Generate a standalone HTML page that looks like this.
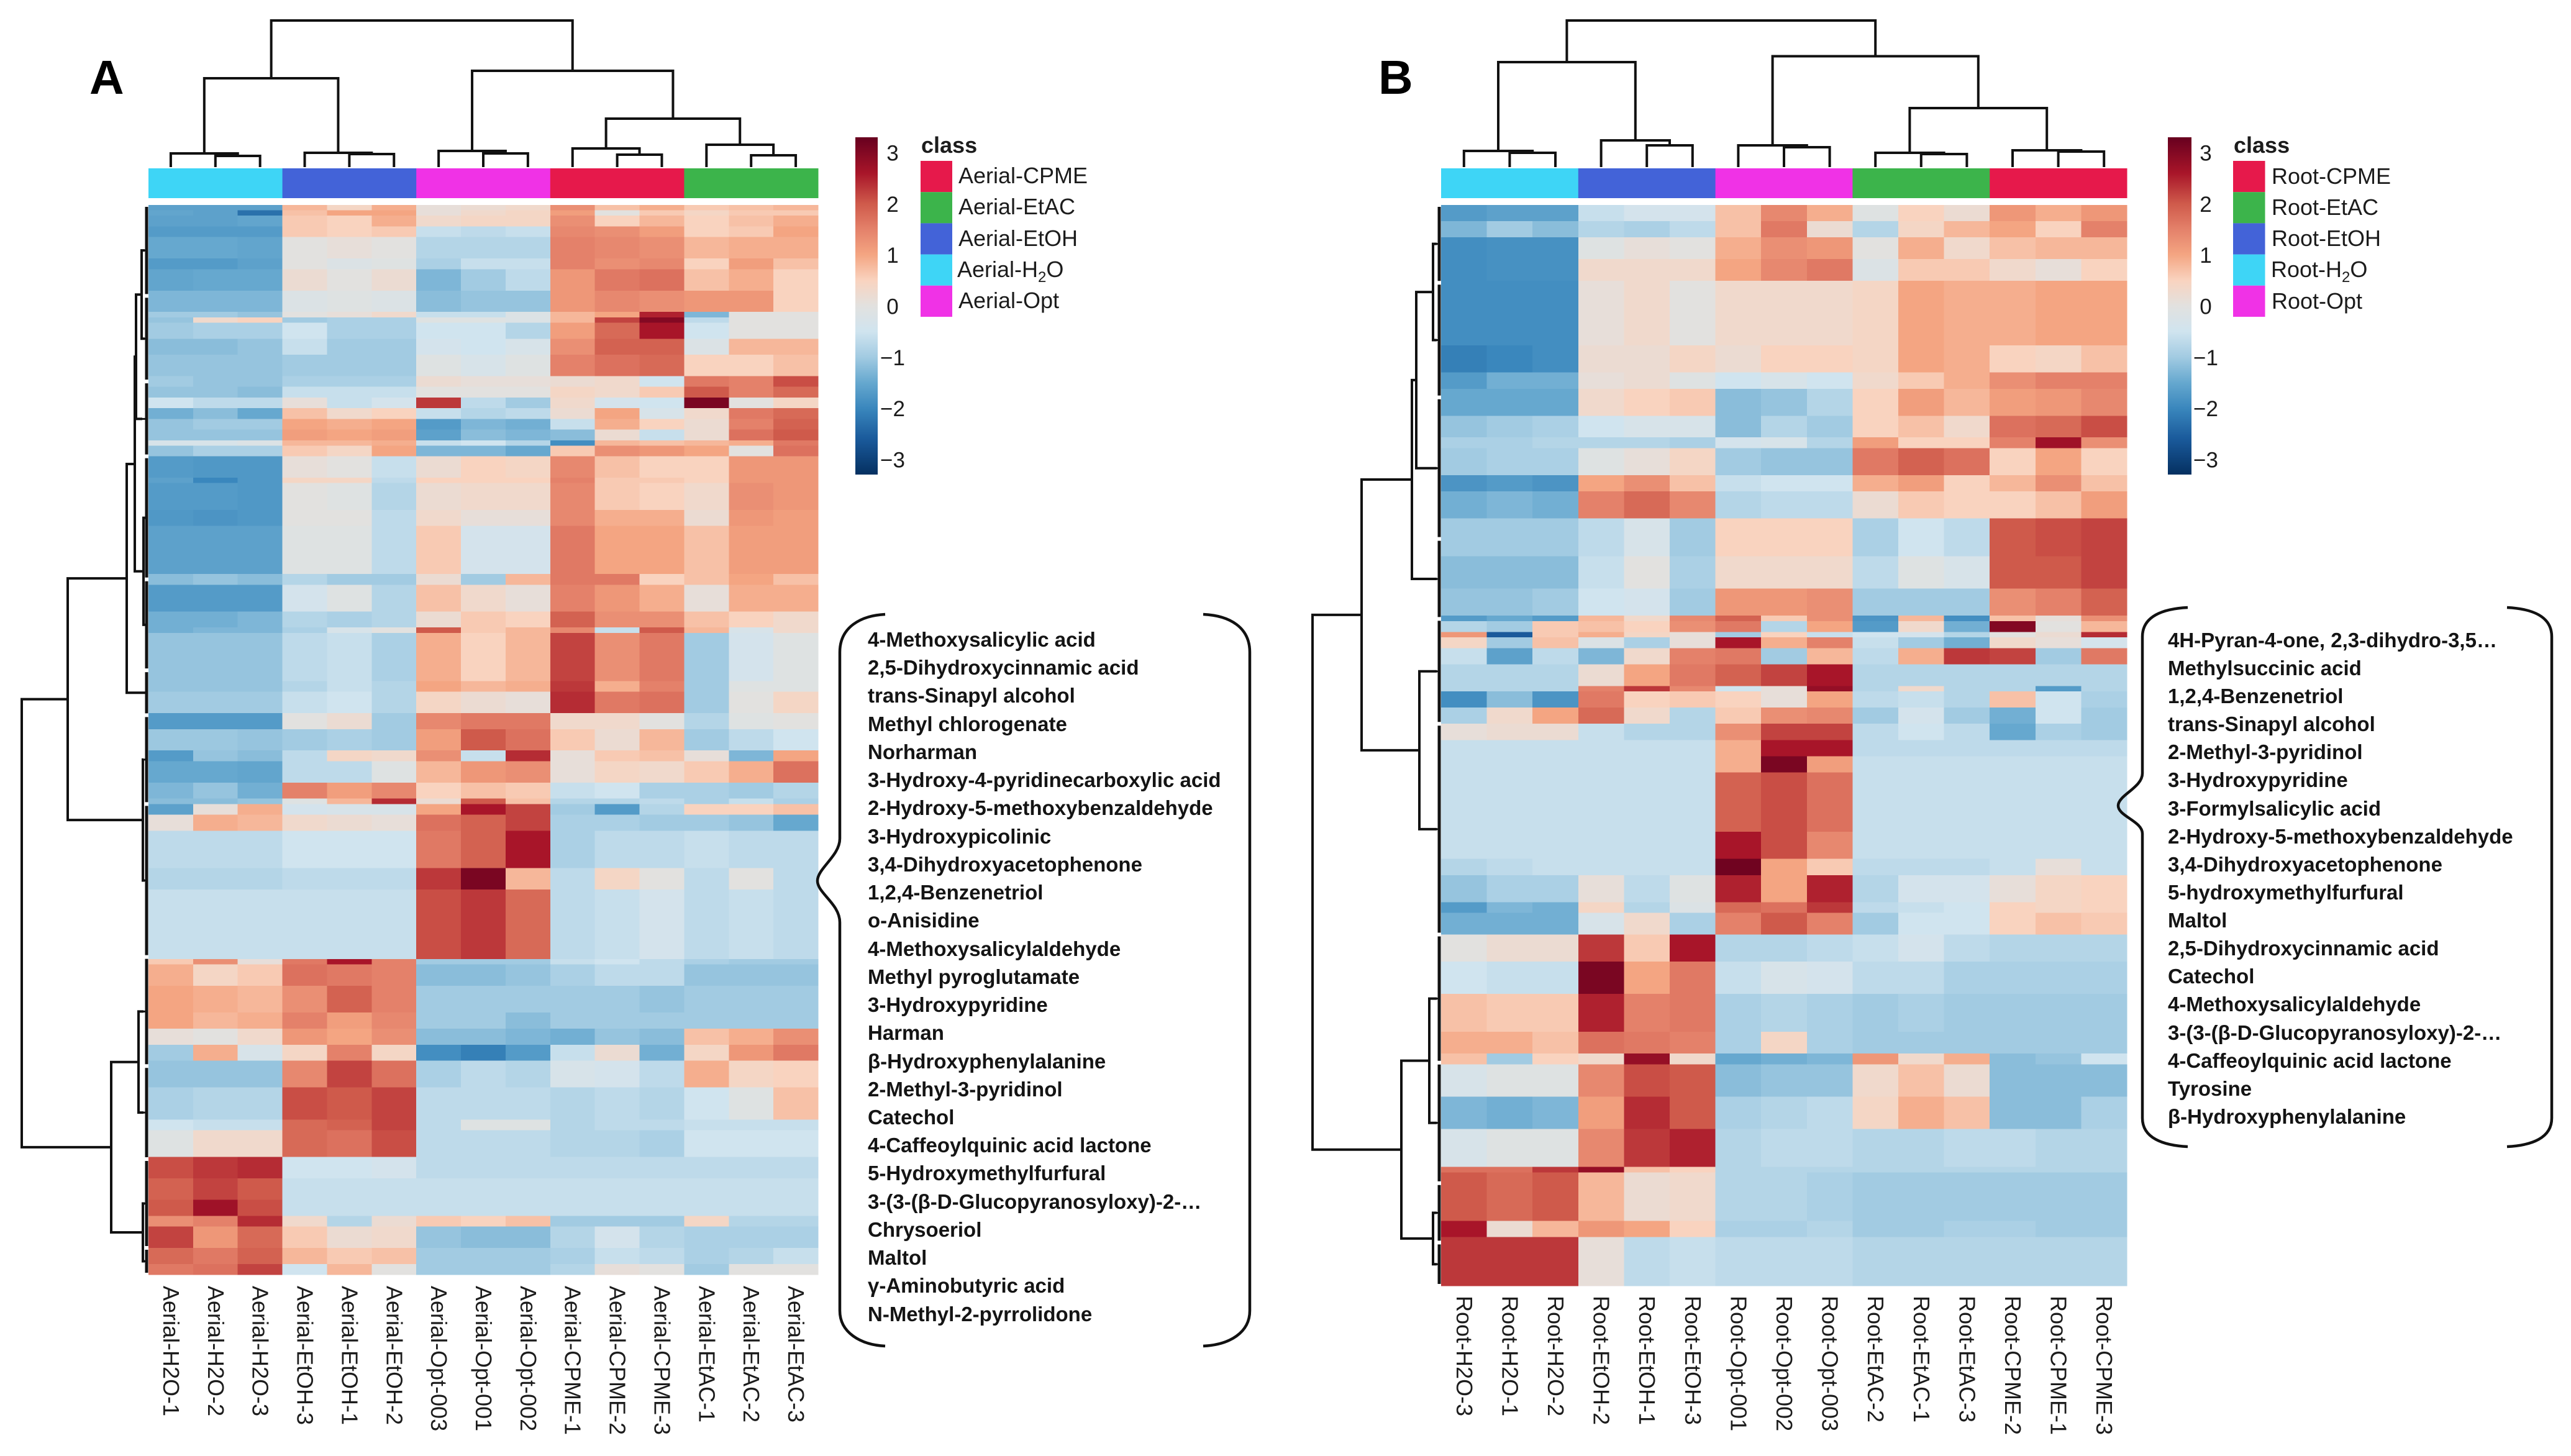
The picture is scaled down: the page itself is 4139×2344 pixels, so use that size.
<!DOCTYPE html>
<html lang="en">
<head>
<meta charset="utf-8">
<title>Clustered metabolite heatmaps for aerial and root extracts</title>
<style>
html,body{margin:0;padding:0;background:#fff;width:4139px;height:2344px;overflow:hidden}
svg{display:block}
text{font-family:"Liberation Sans",sans-serif;fill:#1c1c1c}
.cmp{font-size:33px;font-weight:700;fill:#141414}
.leg{font-size:36px}
.cls{font-size:36px;font-weight:700}
.letter{font-size:77px;font-weight:700;fill:#000}
.brace{fill:none;stroke:#111;stroke-width:4.5}
</style>
</head>
<body>
<svg id="fig" xmlns="http://www.w3.org/2000/svg" width="4139" height="2344" viewBox="0 0 4139 2344">
<rect width="4139" height="2344" fill="#fff"/>
<g id="plots"></g>
<text class="letter" x="144" y="151">A</text>
<text class="letter" x="2219" y="151">B</text>

<g>
<text class="cls" x="1483" y="246">class</text>
<rect x="1482" y="259" width="51" height="50.2" fill="#e6194b"/>
<rect x="1482" y="309.2" width="51" height="50.2" fill="#3cb44b"/>
<rect x="1482" y="359.4" width="51" height="50.2" fill="#4363d8"/>
<rect x="1482" y="409.6" width="51" height="50.2" fill="#3ed5f6"/>
<rect x="1482" y="459.8" width="51" height="50.2" fill="#f032e6"/>
<text class="leg" x="1543" y="295">Aerial-CPME</text>
<text class="leg" x="1543" y="345">Aerial-EtAC</text>
<text class="leg" x="1543" y="396">Aerial-EtOH</text>
<text class="leg" x="1541" y="446">Aerial-H<tspan font-size="24" dy="8">2</tspan><tspan dy="-8">O</tspan></text>
<text class="leg" x="1543" y="496">Aerial-Opt</text>
</g>

<g>
<text class="cls" x="3596" y="246">class</text>
<rect x="3595" y="259" width="51.5" height="50.2" fill="#e6194b"/>
<rect x="3595" y="309.2" width="51.5" height="50.2" fill="#3cb44b"/>
<rect x="3595" y="359.4" width="51.5" height="50.2" fill="#4363d8"/>
<rect x="3595" y="409.6" width="51.5" height="50.2" fill="#3ed5f6"/>
<rect x="3595" y="459.8" width="51.5" height="50.2" fill="#f032e6"/>
<text class="leg" x="3657" y="296">Root-CPME</text>
<text class="leg" x="3657" y="346">Root-EtAC</text>
<text class="leg" x="3657" y="396">Root-EtOH</text>
<text class="leg" x="3656" y="446">Root-H<tspan font-size="24" dy="8">2</tspan><tspan dy="-8">O</tspan></text>
<text class="leg" x="3657" y="497">Root-Opt</text>
</g>

<path class="brace" d="M1425 989C1385 991 1352 1010 1352 1050V1350C1352 1378 1316 1398 1316 1418C1316 1438 1352 1455 1352 1485V2110C1352 2145 1385 2165 1425 2167"/>
<path class="brace" d="M1937 989C1980 991 2012 1010 2012 1050V2110C2012 2145 1980 2165 1937 2167"/>
<path class="brace" d="M3522 978C3482 980 3449 992 3449 1025V1245C3449 1268 3410 1280 3410 1297C3410 1314 3449 1322 3449 1342V1800C3449 1832 3482 1844 3522 1846"/>
<path class="brace" d="M4036 978C4076 980 4108 992 4108 1025V1800C4108 1832 4076 1844 4036 1846"/>

<g transform="translate(1397,0)">
<text class="cmp" y="1041">4-Methoxysalicylic acid</text>
<text class="cmp" y="1086">2,5-Dihydroxycinnamic acid</text>
<text class="cmp" y="1131">trans-Sinapyl alcohol</text>
<text class="cmp" y="1177">Methyl chlorogenate</text>
<text class="cmp" y="1222">Norharman</text>
<text class="cmp" y="1267">3-Hydroxy-4-pyridinecarboxylic acid</text>
<text class="cmp" y="1312">2-Hydroxy-5-methoxybenzaldehyde</text>
<text class="cmp" y="1358">3-Hydroxypicolinic</text>
<text class="cmp" y="1403">3,4-Dihydroxyacetophenone</text>
<text class="cmp" y="1448">1,2,4-Benzenetriol</text>
<text class="cmp" y="1493">o-Anisidine</text>
<text class="cmp" y="1539">4-Methoxysalicylaldehyde</text>
<text class="cmp" y="1584">Methyl pyroglutamate</text>
<text class="cmp" y="1629">3-Hydroxypyridine</text>
<text class="cmp" y="1674">Harman</text>
<text class="cmp" y="1720">β-Hydroxyphenylalanine</text>
<text class="cmp" y="1765">2-Methyl-3-pyridinol</text>
<text class="cmp" y="1810">Catechol</text>
<text class="cmp" y="1855">4-Caffeoylquinic acid lactone</text>
<text class="cmp" y="1900">5-Hydroxymethylfurfural</text>
<text class="cmp" y="1946">3-(3-(β-D-Glucopyranosyloxy)-2-…</text>
<text class="cmp" y="1991">Chrysoeriol</text>
<text class="cmp" y="2036">Maltol</text>
<text class="cmp" y="2081">γ-Aminobutyric acid</text>
<text class="cmp" y="2127">N-Methyl-2-pyrrolidone</text>
</g>

<g transform="translate(3490,0)">
<text class="cmp" y="1042">4H-Pyran-4-one, 2,3-dihydro-3,5…</text>
<text class="cmp" y="1087">Methylsuccinic acid</text>
<text class="cmp" y="1132">1,2,4-Benzenetriol</text>
<text class="cmp" y="1177">trans-Sinapyl alcohol</text>
<text class="cmp" y="1222">2-Methyl-3-pyridinol</text>
<text class="cmp" y="1267">3-Hydroxypyridine</text>
<text class="cmp" y="1313">3-Formylsalicylic acid</text>
<text class="cmp" y="1358">2-Hydroxy-5-methoxybenzaldehyde</text>
<text class="cmp" y="1403">3,4-Dihydroxyacetophenone</text>
<text class="cmp" y="1448">5-hydroxymethylfurfural</text>
<text class="cmp" y="1493">Maltol</text>
<text class="cmp" y="1538">2,5-Dihydroxycinnamic acid</text>
<text class="cmp" y="1583">Catechol</text>
<text class="cmp" y="1628">4-Methoxysalicylaldehyde</text>
<text class="cmp" y="1674">3-(3-(β-D-Glucopyranosyloxy)-2-…</text>
<text class="cmp" y="1719">4-Caffeoylquinic acid lactone</text>
<text class="cmp" y="1764">Tyrosine</text>
<text class="cmp" y="1809">β-Hydroxyphenylalanine</text>
</g>
</svg>

<script>
// ---------- shared scale ----------
const colorStops = [-3.3,-2.6,-2,-1.5,-1,-0.5,0,0.5,1,1.5,2,2.6,3.3];
const colorHexes = ['#053061','#1a5a9b','#3a87bd','#66a8cf','#a2cbe2','#d0e4ef','#e2e1df','#f9d3bf','#f4a582','#e4816a','#cf5a4b','#a81529','#67001f'];
const colorbarTicks = [3,2,1,0,-1,-2,-3];

// ---------- Aerial panel ----------
const aerialColumns = ['Aerial-H2O-1','Aerial-H2O-2','Aerial-H2O-3','Aerial-EtOH-3','Aerial-EtOH-1','Aerial-EtOH-2','Aerial-Opt-003','Aerial-Opt-001','Aerial-Opt-002','Aerial-CPME-1','Aerial-CPME-2','Aerial-CPME-3','Aerial-EtAC-1','Aerial-EtAC-2','Aerial-EtAC-3'];
const aerialClasses = ['#3ed5f6','#4363d8','#f032e6','#e6194b','#3cb44b'];
const aerialBandRows = [1,1,2,2,4,2,4,4,1,1,3,3,4,2,2,2,2,2,2,1,2,4,1,5,3,9,2,5,3,1,9,2,4,3,4,2,4,3,1,2,3,7,4,13,1,4,5,3,3,3,5,6,2,5,4,4,3,2,4,3,2];
const aerialValues = [
[-1.6,-1.6,-1.6,.8,.4,.9,.1,.2,.3,1.3,.7,.9,.6,.7,.8],
[-1.55,-1.6,-2.3,.7,1,1,.1,.3,.4,1.1,0,.6,.4,.6,.6],
[-1.6,-1.6,-1.55,.6,.5,.9,.3,.4,.4,1.3,.5,.8,.5,.7,.9],
[-1.7,-1.7,-1.7,.6,.5,.6,-.6,-.7,-.6,1.4,1.3,1.1,.5,.6,1],
[-1.5,-1.5,-1.55,0,.1,0,-.8,-.8,-.8,1.5,1.4,1.3,.8,.9,.9],
[-1.7,-1.7,-1.6,0,-.2,-.1,-.9,-.6,-.6,1.5,1.3,1.4,.5,1.1,.7],
[-1.55,-1.5,-1.5,.2,0,.2,-1.3,-1,-.7,1.2,1.6,1.7,.7,.9,.5],
[-1.3,-1.3,-1.3,-.2,-.1,-.2,-1.2,-1.1,-1.1,1.2,1.4,1.3,1.2,1.2,.5],
[-1,-1,-1.1,0,.1,.3,-.6,-.6,-.2,.8,1,2.5,-1.3,0,0],
[-1.1,.3,.5,-1,-.9,-.9,-.1,-.1,-.2,.8,2.2,3,-.7,0,0],
[-1,-.9,-.9,-.5,-.9,-.9,-.5,-.5,-.8,1.1,1.8,2.6,-.5,0,0],
[-1.2,-1.2,-1.1,-.6,-1,-1,-.4,-.5,-.3,1.3,1.9,1.9,-.2,.8,.8],
[-1.1,-1.1,-1.1,-1,-1,-1,-.1,-.3,-.1,1.5,1.7,1.8,.5,.5,.7],
[-1,-1.1,-1.1,-.9,-.9,-.9,.2,.1,.1,.2,.3,-.5,1.6,1.5,2.1],
[-1.1,-1.1,-1.2,-.6,-.6,-.6,0,0,0,.4,.3,.6,2,1.5,1.8],
[-.5,-.7,-.7,.1,-.6,-.4,2.3,-.7,-1,.3,-.4,-.5,3.1,0,.4],
[-1.4,-1.2,-1.5,.7,.3,.5,-.6,-.8,-.7,.2,1,-.3,.3,1.6,1.8],
[-1.1,-1,-1,1,.9,1,-1.7,-1.3,-1.4,-.6,.9,.5,.2,1.5,1.9],
[-1.1,-1.1,-1.1,1.1,1,1.1,-1.6,-1.2,-1.3,-1.2,.2,-.6,.2,1.7,2],
[-.3,-.3,-.2,.8,.8,.9,-.6,-.5,-.8,-1.9,.8,.7,.8,.9,1.6],
[-1.1,-.9,-.9,.6,.4,1,-1.3,-1.3,-1.5,.6,1.3,1.2,1,0,1.7],
[-1.7,-1.75,-1.75,.1,0,-.6,.2,.5,.4,1.4,.7,.5,.5,1.2,1.2],
[-1.6,-2,-1.75,.4,.4,-.7,.5,.5,.5,1.5,.6,.6,.5,1.2,1.2],
[-1.7,-1.7,-1.75,0,-.1,-.8,.2,.3,.3,1.4,.6,.5,.3,1.3,1.2],
[-1.75,-1.8,-1.75,0,0,-.7,.3,.1,.1,1.4,.9,.9,.2,1.2,1.1],
[-1.6,-1.6,-1.6,-.1,-.1,-.7,.6,-.4,-.4,1.6,1,1,.7,1.1,1.1],
[-1.2,-1.1,-1.2,-.8,-1,-1,.2,-1,.8,1.6,1.6,.5,.7,1,.7],
[-1.7,-1.7,-1.7,-.4,-.1,-.8,.7,.3,.1,1.5,1.2,.9,.1,.9,.9],
[-1.4,-1.4,-1.3,-.8,-.9,-.8,.2,.6,.5,1.9,1.3,1.3,.7,.5,.3],
[-1.4,-1.3,-1.3,-.9,-.3,0,2,.6,.8,1.4,-.6,2,.8,-.3,.3],
[-1.1,-1.1,-1.1,-.7,-.6,-.9,.9,.5,.8,2.2,1.3,1.6,-1,-.4,-.1],
[-1.1,-1.1,-1.1,-.8,-.6,-.8,1,.8,.9,2.3,.9,1.5,-1,-.1,-.1],
[-1,-1,-1,-.6,-.5,-.8,.4,.2,.1,2.4,1.6,1.7,-1,0,.4],
[-1.7,-1.7,-1.7,0,.2,-1,1.4,1.6,1.6,.3,.3,0,-.8,-.1,0],
[-1.05,-1.05,-1.1,-1,-.9,-1,1.1,2,1.7,.6,.2,.8,-1,-.7,-.5],
[-1.7,-1.1,-1.2,-.7,.4,.3,1.3,-.6,2.4,.1,.6,.7,.1,-1.3,1],
[-1.5,-1.5,-1.55,-.7,-.7,-.1,.8,1.2,1.3,.1,.4,.3,.6,.9,1.7],
[-1.3,-1.1,-1.4,1.5,1.1,1.4,.5,.7,.6,-.6,-.5,-.9,-.9,-1,-.8],
[-1.2,-1.2,-1.1,-.1,.8,2.4,.2,2,.7,-.8,-.8,-.7,-.9,-.6,-.9],
[-1.6,.1,.9,-.4,-.3,-.3,1,2.6,2.2,-1,-1.7,-.8,.5,.5,.7],
[.1,.9,.8,.3,.2,.1,1.7,1.9,2.2,-.9,-.9,-1,-1,-1.1,-1.5],
[-.7,-.7,-.7,-.5,-.5,-.5,1.6,1.9,2.6,-.9,-.7,-.7,-.6,-.7,-.7],
[-.8,-.8,-.8,-.7,-.7,-.7,2.3,3.1,.8,-.7,.4,0,-.7,0,-.7],
[-.6,-.6,-.6,-.6,-.6,-.6,2.1,2.3,1.8,-.7,-.6,-.4,-.7,-.6,-.7],
[.6,1.3,.1,1.6,2.6,1.5,-1,-1,-1,-.6,-.5,-.7,-.9,-1,-1],
[.9,.4,.6,1.7,1.6,1.5,-1.2,-1.2,-1.1,-.9,-.7,-.7,-1.1,-1.1,-1.1],
[1,.9,.8,1.3,1.9,1.5,-1,-1,-1,-1,-1,-1.1,-1,-1,-1],
[1,.8,.9,1.5,1.1,1.4,-1,-1,-1.2,-1,-1,-1,-1,-1,-1],
[.1,0,.3,1.2,1,1.3,-1.2,-1.2,-1.3,-1.4,-1.1,-1.2,.7,.9,1.3],
[-1,.9,-.3,.4,1.5,.4,-1.9,-2.1,-1.7,-.6,.2,-1.4,.4,1.2,1.6],
[-1.1,-1.1,-1.1,1.4,2.2,1.7,-.9,-.7,-.8,-.3,-.4,-.7,.9,.4,.5],
[-.9,-.8,-.8,2.1,2,2.2,-.7,-.7,-.7,-.8,-.7,-.8,-.5,-.1,.7],
[-.5,-.6,-.6,1.8,1.9,2.2,-.7,-.1,-.1,-.8,-.7,-.7,-.6,-.6,-.6],
[-.1,.3,.3,1.8,1.7,2.1,-.7,-.7,-.7,-.8,-.8,-.9,-.5,-.5,-.5],
[2.1,2.3,2.4,-.5,-.5,-.4,-.7,-.7,-.7,-.7,-.7,-.7,-.7,-.7,-.7],
[1.9,2.2,2,-.6,-.6,-.6,-.6,-.6,-.6,-.6,-.6,-.6,-.6,-.6,-.6],
[2,2.7,2.1,-.6,-.6,-.6,-.6,-.6,-.6,-.6,-.6,-.6,-.6,-.6,-.6],
[1.3,1.5,2.4,.3,-.8,.2,.6,.5,.7,-1,-1,-1,.4,-.8,-.8],
[2.2,1.2,1.8,.6,.2,.3,-1.1,-1.2,-1.2,-.8,-.4,-.8,-.9,-.9,-.9],
[1.8,1.6,1.9,.8,.6,.7,-1,-1,-1,-.9,-.6,-.7,-.9,-.8,-.6],
[1.6,1.7,2.2,-.5,.8,0,-1,-1,-1,-.8,.1,0,-1,0,0]
];
const aerialTopMerges = [[1,2,18],[0,15,22],[4,5,21],[3,17,23],[7,8,22],[6,19,26],[10,11,20],[9,21,30],[13,14,19],[12,23,36],[22,24,78],[20,25,155],[16,18,143],[27,26,236]];
const aerialRowLeaves = [[0,17,6],[17,33,6],[33,47,10],[47,70,5],[70,87,5],[87,95.4,5],[95.4,112,8],[112,140.6,6],[140.6,161,8],[161,178.4,8],[178.4,195,6],[195,200,6]];
const aerialRowMerges = [[0,1,11],[12,2,20],[3,4,8],[13,14,22],[15,5,35],[6,7,9],[16,17,130],[8,9,16],[10,11,9],[19,20,60],[18,21,204]];

// ---------- Root panel ----------
const rootColumns = ['Root-H2O-3','Root-H2O-1','Root-H2O-2','Root-EtOH-2','Root-EtOH-1','Root-EtOH-3','Root-Opt-001','Root-Opt-002','Root-Opt-003','Root-EtAC-2','Root-EtAC-1','Root-EtAC-3','Root-CPME-2','Root-CPME-1','Root-CPME-3'];
const rootClasses = ['#3ed5f6','#4363d8','#f032e6','#3cb44b','#e6194b'];
const rootBandRows = [3,3,4,4,12,5,3,5,4,2,5,3,5,7,6,5,1,2,1,2,3,4,1,3,3,3,3,3,11,5,3,5,2,4,5,6,7,4,2,6,6,7,1,9,3,9];
const rootValues = [
[-1.7,-1.6,-1.6,-.6,-.4,-.4,.7,1.4,.9,-.1,.5,.2,1.2,.9,1.2],
[-1.3,-1,-1.2,-.8,-.9,-.7,.7,1.6,.2,-.8,.4,.8,1,.5,1.5],
[-1.9,-1.85,-1.85,-.1,.1,0,.9,1.3,1.2,0,.9,.3,.7,.8,.8],
[-1.9,-1.85,-1.85,.3,.3,.3,1,1.4,1.6,-.2,.6,.6,.3,.1,.5],
[-1.9,-1.9,-1.9,.1,.3,0,.3,.3,.3,.4,1,.9,.9,1,1],
[-2.1,-2,-1.9,.2,.2,.4,.2,.5,.5,.4,1,.9,.5,.4,.7],
[-1.7,-1.4,-1.4,.1,.2,-.1,-.5,-.3,-.5,.3,.6,.9,1.3,1.5,1.5],
[-1.5,-1.5,-1.5,.3,.5,.6,-1.2,-1.1,-.8,.5,1.1,.8,1.1,1.2,1.4],
[-1.1,-1,-.9,-.5,-.3,-.3,-1.2,-.8,-1,.5,.7,.3,1.7,1.8,2.1],
[-.9,-.9,-.8,-.8,-.8,-.9,-.4,-.3,-.8,1.1,.5,.5,1.5,2.7,1.3],
[-1,-.9,-.9,-.1,.1,.4,-1,-1.1,-1.1,1.6,1.9,1.7,.5,1,.5],
[-1.8,-1.7,-1.8,1,1.3,.7,-.6,-.5,-.5,.9,1.1,.5,.8,1.3,.7],
[-1.4,-1.3,-1.4,1.5,1.8,1.4,-.8,-.7,-.7,.2,.6,.5,.5,.7,1.1],
[-1,-1,-1,-.7,-.3,-1,.5,.5,.5,-.9,-.5,-.7,2,2.1,2.2],
[-1.2,-1.2,-1.2,-.6,0,-.9,.3,.3,.3,-.7,-.1,-.3,2,2,2.2],
[-1.1,-1.1,-1,-.5,-.4,-1,1.2,1.2,1.3,-1,-1,-1,1.3,1.5,1.9],
[-1.7,-1.5,-1.7,.8,.3,1.4,1.9,.6,1.3,-1.8,.8,-1.9,.7,.1,1.3],
[-.8,-1,.6,.7,.5,1.3,1.6,-.8,1,-1.7,.3,-1.4,3,0,.8],
[1.2,-2.6,.6,.9,.4,.1,-1,.5,-.6,-.5,-.4,-.8,0,.2,2.4],
[.4,-1,.7,-.2,-.9,.1,2.6,.9,1.5,-.6,-1,-1.4,.3,.1,-.4],
[-.6,-1.6,-.7,-1.3,.3,1.5,1.6,-1,.8,-.7,.9,2.3,2.2,-1,1.6],
[-.8,-.8,-.8,.2,1,1.6,1.9,2.2,2.6,-.8,-.8,-.8,-.8,-.8,-.8],
[-.8,-.8,-.8,1.5,2.3,1.4,-.5,.1,2.8,-.8,.3,-.8,-.8,-1.7,-.8],
[-1.9,-1.2,-1.8,1.6,.5,.6,.5,.1,1,-.7,-.6,-.8,.7,-.5,-.9],
[-.9,.3,1,1.8,.3,-.8,.6,1.3,1.4,-1,-.4,-1,-1.4,-.5,-1],
[.1,.2,.2,-.6,-.8,-.8,1.3,2.2,2.2,-.7,-.5,-.7,-1.5,-.9,-1],
[-.6,-.6,-.6,-.6,-.6,-.6,.9,2.6,2.6,-.7,-.7,-.7,-.7,-.7,-.7],
[-.6,-.6,-.6,-.6,-.6,-.6,.9,3.1,1.1,-.6,-.6,-.6,-.6,-.6,-.6],
[-.6,-.6,-.6,-.6,-.6,-.6,1.9,2.1,1.7,-.6,-.6,-.6,-.6,-.6,-.6],
[-.6,-.6,-.6,-.6,-.6,-.6,2.6,2.1,1.4,-.6,-.6,-.6,-.6,-.6,-.6],
[-.8,-.7,-.6,-.6,-.6,-.6,3.2,1,.6,-.7,-.7,-.7,-.6,.1,-.6],
[-1.1,-.9,-.9,.1,-.7,-.1,2.5,1,2.5,-.8,-.4,-.4,.1,.4,.5],
[-1.7,-1.3,-1.4,.4,-.8,-.2,1.8,1.7,2.3,-.7,-.6,-.5,.5,.4,.5],
[-1.4,-1.4,-1.4,-.3,.3,-.9,1.5,2,1.5,-1,-.5,-.5,.5,.7,.6],
[0,.2,.2,2.3,.6,2.6,-.8,-.8,-.7,-.6,-.4,-.7,-.8,-.8,-.8],
[-.5,-.6,-.6,3.1,1,1.6,-.6,-.3,-.4,-.7,-.7,-.9,-.9,-.9,-.9],
[.7,.6,.6,2.5,1.5,1.6,-.9,-.8,-.9,-1,-.9,-1,-1,-1,-1],
[.9,.9,.7,1.7,1.6,1.5,-.9,.4,-.9,-1,-1,-1,-1,-1,-1],
[.7,-1,.5,.3,2.8,.3,-1.5,-1.4,-1.3,1.2,.3,.9,-1.2,-1.1,-.5],
[-.3,-.1,-.1,1.4,2.1,2,-1.2,-1.1,-1.1,.3,.7,.2,-1.2,-1.2,-1.2],
[-1.3,-1.4,-1.3,1.1,2.4,2,-.9,-.8,-.7,.4,.9,.7,-1.2,-1.2,-.9],
[-.3,-.1,-.1,1.4,2.3,2.5,-.8,-.7,-.7,-.8,-.8,-.7,-.7,-.8,-.8],
[1.7,1.7,2.3,2.8,.7,.5,-.8,-.8,-.8,-.8,-.8,-.8,-.8,-.8,-.8],
[2,1.8,2,.8,.2,.3,-.8,-.8,-.9,-1,-1,-1,-1,-1,-1],
[2.6,.2,.8,1.2,1,.5,-.9,-.9,-.8,-1,-1,-.9,-.9,-1,-1],
[2.3,2.3,2.3,.1,-.7,-.6,-.7,-.7,-.7,-.8,-.8,-.8,-.8,-.8,-.8]
];
const rootTopMerges = [[1,2,23],[0,15,26],[4,5,35],[3,17,43],[7,8,32],[6,19,35],[10,11,21],[9,21,23],[13,14,25],[12,23,27],[22,24,95],[20,25,178.5],[16,18,169],[27,26,236]];
const rootRowLeaves = [[0,14.4,7],[14.4,35.6,7],[35.6,61.8,7],[61.8,76.6,7],[76.6,96,7],[96,135,7],[135,158.7,7],[158.7,181,7],[181,192,7],[192,200,7]];
const rootRowMerges = [[0,1,13],[10,2,40],[11,3,47],[4,5,35],[12,13,128],[6,7,19],[8,9,13],[15,16,64],[14,17,207]];

// ---------- helpers ----------
const SVGNS = 'http://www.w3.org/2000/svg';
const layer = document.getElementById('plots');
function hexRgb(h){return [1,3,5].map(function(i){return parseInt(h.substr(i,2),16);});}
function valueColor(v){
  var c=Math.max(colorStops[0],Math.min(colorStops[colorStops.length-1],v));
  for(var i=0;i<colorStops.length-1;i++){
    if(c<=colorStops[i+1]){
      var t=(c-colorStops[i])/(colorStops[i+1]-colorStops[i]);
      var a=hexRgb(colorHexes[i]),b=hexRgb(colorHexes[i+1]);
      return 'rgb('+a.map(function(x,k){return Math.round(x+(b[k]-x)*t);}).join(',')+')';
    }
  }
  return colorHexes[colorHexes.length-1];
}
function node(tag,parent){var e=document.createElementNS(SVGNS,tag);parent.appendChild(e);return e;}
function linePath(parent,d,w){
  var p=node('path',parent);
  p.setAttribute('d',d);
  p.setAttribute('fill','none');
  p.setAttribute('stroke','#111');
  p.setAttribute('stroke-width',w);
  
  
  return p;
}

function drawPanel(cfg){
  var colW=(cfg.right-cfg.left)/cfg.columns.length;
  var xScale=function(i){return cfg.left+colW*i;};
  var totalRows=cfg.bandRows.reduce(function(a,b){return a+b;},0);
  var yScale=function(r){return cfg.top+(cfg.bottom-cfg.top)*r/totalRows;};

  var hm=node('g',layer);
  
  
  hm.setAttribute('shape-rendering','crispEdges');
  var r=0;
  cfg.values.forEach(function(row,b){
    var y0=yScale(r),y1=yScale(r+cfg.bandRows[b]);
    row.forEach(function(v,c){
      var cell=node('rect',hm);
      cell.setAttribute('x',xScale(c));
      cell.setAttribute('y',y0);
      cell.setAttribute('width',colW+.5);
      cell.setAttribute('height',y1-y0+.5);
      cell.setAttribute('fill',valueColor(v));
      
      
    });
    r+=cfg.bandRows[b];
  });

  var groupSize=cfg.columns.length/cfg.classes.length;
  cfg.classes.forEach(function(col,i){
    var bar=node('rect',layer);
    bar.setAttribute('x',xScale(i*groupSize));
    bar.setAttribute('y',cfg.annTop);
    bar.setAttribute('width',colW*groupSize+.5);
    bar.setAttribute('height',cfg.annBottom-cfg.annTop);
    bar.setAttribute('fill',col);
    
    
  });

  cfg.columns.forEach(function(lbl,i){
    var t=node('text',layer);
    var x=xScale(i)+colW/2-12;
    t.setAttribute('x',x);
    t.setAttribute('y',cfg.labelY);
    t.setAttribute('transform','rotate(90 '+x+' '+cfg.labelY+')');
    t.setAttribute('font-size','36');
    
    
    t.textContent=lbl;
  });

  // column dendrogram
  var topG=node('g',layer);
  
  
  var pts=cfg.columns.map(function(_,i){return {x:xScale(i)+colW/2,y:cfg.treeBase};});
  cfg.topMerges.forEach(function(m){
    var a=pts[m[0]],b=pts[m[1]],y=cfg.treeBase-m[2];
    linePath(topG,'M'+a.x+' '+a.y+'V'+y+'H'+b.x+'V'+b.y,4);
    pts.push({x:(a.x+b.x)/2,y:y});
  });

  // row dendrogram
  var sideG=node('g',layer);
  
  
  var rp=cfg.rowLeaves.map(function(l){
    var y0=yScale(l[0]),y1=yScale(l[1]),xl=cfg.left-l[2],ym=(y0+y1)/2;
    linePath(sideG,'M'+(cfg.left-3)+' '+(y0+3)+'V'+(y1-3),5);
    linePath(sideG,'M'+xl+' '+ym+'H'+(cfg.left-3),3);
    return {x:xl,y:ym};
  });
  cfg.rowMerges.forEach(function(m){
    var a=rp[m[0]],b=rp[m[1]],x=cfg.left-m[2];
    linePath(sideG,'M'+a.x+' '+a.y+'H'+x+'V'+b.y+'H'+b.x,4);
    rp.push({x:x,y:(a.y+b.y)/2});
  });

  // colorbar
  var cbTop=221,cbBottom=764,cbMax=colorStops[colorStops.length-1];
  var cbScale=function(v){return (cbTop+cbBottom)/2-v*(cbBottom-cbTop)/(2*cbMax);};
  var gid=cfg.name+'-cb-grad';
  var defs=node('defs',layer);
  var grad=node('linearGradient',defs);
  grad.setAttribute('id',gid);
  grad.setAttribute('x1','0');grad.setAttribute('x2','0');grad.setAttribute('y1','1');grad.setAttribute('y2','0');
  colorStops.forEach(function(v,i){
    var s=node('stop',grad);
    s.setAttribute('offset',(v-colorStops[0])/(2*cbMax));
    s.setAttribute('stop-color',colorHexes[i]);
  });
  var cb=node('rect',layer);
  cb.setAttribute('x',cfg.cbX);
  cb.setAttribute('y',cbTop);
  cb.setAttribute('width',cfg.cbW);
  cb.setAttribute('height',cbBottom-cbTop);
  cb.setAttribute('fill','url(#'+gid+')');
  
  
  colorbarTicks.forEach(function(v){
    var t=node('text',layer);
    t.setAttribute('x',cfg.cbLabelX);
    t.setAttribute('y',cbScale(v)+13);
    t.setAttribute('text-anchor','middle');
    t.setAttribute('font-size','35');
    
    
    t.textContent=v<0?'\u2212'+(-v):String(v);
  });
}

drawPanel({name:'aerial',left:239,right:1317,top:330,bottom:2052,annTop:271,annBottom:319,treeBase:269,labelY:2070,
  columns:aerialColumns,classes:aerialClasses,bandRows:aerialBandRows,values:aerialValues,
  topMerges:aerialTopMerges,rowLeaves:aerialRowLeaves,rowMerges:aerialRowMerges,cbX:1377,cbW:36,cbLabelX:1437});
drawPanel({name:'root',left:2320,right:3424,top:330,bottom:2070,annTop:271,annBottom:319,treeBase:269,labelY:2086,
  columns:rootColumns,classes:rootClasses,bandRows:rootBandRows,values:rootValues,
  topMerges:rootTopMerges,rowLeaves:rootRowLeaves,rowMerges:rootRowMerges,cbX:3490,cbW:38,cbLabelX:3551});
</script>
</body>
</html>
